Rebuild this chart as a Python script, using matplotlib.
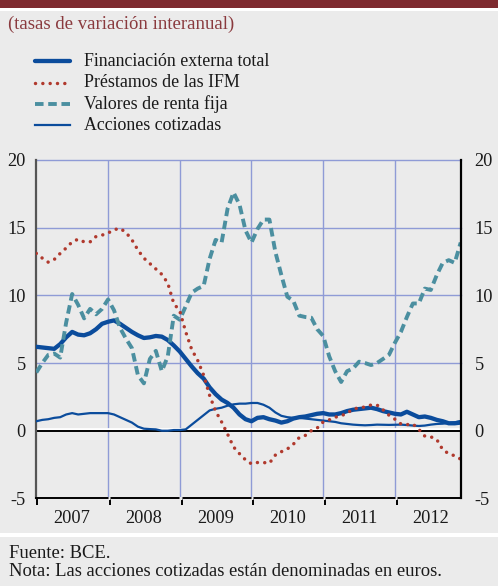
import numpy as np
import matplotlib
matplotlib.use("Agg")
import matplotlib.pyplot as plt
from matplotlib.lines import Line2D
from matplotlib.patches import Rectangle
from matplotlib.transforms import ScaledTranslation

plt.rcParams['font.family'] = ['Liberation Serif', 'DejaVu Serif']

# ---------------- data (monthly, Jan 2007 .. Dec 2012) ----------------
month_index = np.arange(72)
year_starts = [2007, 2008, 2009, 2010, 2011, 2012]
year_labels = ['2007', '2008', '2009', '2010', '2011', '2012']
y_ticks = [-5, 0, 5, 10, 15, 20]

total = [6.2, 6.15, 6.1, 6.05, 6.4, 6.9, 7.3, 7.1, 7.05, 7.2, 7.5, 7.9,
         8.05, 8.15, 7.9, 7.6, 7.3, 7.05, 6.85, 6.9, 7.0, 6.95, 6.7, 6.3,
         5.85, 5.3, 4.75, 4.25, 3.85, 3.2, 2.7, 2.3, 2.05, 1.7, 1.2, 0.85,
         0.7, 0.95, 1.0, 0.85, 0.75, 0.6, 0.7, 0.9, 1.0, 1.05, 1.15, 1.25,
         1.3, 1.2, 1.2, 1.3, 1.45, 1.55, 1.6, 1.65, 1.7, 1.6, 1.45, 1.35,
         1.25, 1.2, 1.4, 1.2, 1.0, 1.05, 0.95, 0.8, 0.7, 0.55, 0.55, 0.6]

prestamos = [13.1, 12.75, 12.45, 12.65, 13.1, 13.5, 13.95, 14.15, 13.95, 13.95, 14.35, 14.45,
             14.6, 14.85, 14.95, 14.65, 14.1, 13.35, 12.75, 12.35, 11.95, 11.55, 10.9, 9.4,
             8.85, 7.3, 6.0, 5.2, 4.1, 2.6, 1.45, 0.65, -0.25, -1.2, -1.7, -2.15,
             -2.45, -2.35, -2.35, -2.4, -1.8, -1.55, -1.35, -1.0, -0.5, -0.35, 0.0, 0.2,
             0.65, 0.8, 1.0, 1.1, 1.3, 1.6, 1.7, 1.75, 1.9, 1.9, 1.55, 1.15,
             0.85, 0.5, 0.45, 0.5, 0.1, -0.4, -0.45, -0.65, -1.4, -1.7, -1.85, -2.1]

valores = [4.3, 5.0, 5.6, 5.7, 5.4, 8.0, 10.1, 9.3, 8.3, 9.0, 8.6, 9.0,
           9.7, 8.9, 7.6, 6.8, 6.1, 4.1, 3.5, 5.3, 5.9, 4.4, 5.5, 8.5,
           8.2, 9.2, 10.2, 10.5, 10.7, 12.7, 14.1, 13.9, 16.4, 17.6, 16.7, 14.8,
           13.9, 14.9, 15.6, 15.6, 13.2, 11.5, 9.9, 9.6, 8.5, 8.4, 8.35, 7.5,
           7.0, 5.5, 4.4, 3.6, 4.4, 4.6, 5.1, 5.0, 4.85, 5.0, 5.3, 5.6,
           6.5, 7.3, 8.4, 9.4, 9.4, 10.5, 10.4, 11.5, 12.4, 12.6, 12.4, 13.9]

acciones = [0.7, 0.8, 0.85, 0.95, 1.0, 1.2, 1.3, 1.2, 1.25, 1.3, 1.3, 1.3,
            1.3, 1.2, 1.0, 0.8, 0.6, 0.3, 0.15, 0.12, 0.1, 0.0, 0.0, 0.05,
            0.05, 0.1, 0.45, 0.8, 1.15, 1.5, 1.62, 1.7, 1.85, 1.95, 2.0, 2.0,
            2.05, 2.05, 1.92, 1.7, 1.35, 1.1, 1.0, 0.95, 0.95, 0.9, 0.85, 0.8,
            0.75, 0.7, 0.65, 0.55, 0.5, 0.45, 0.42, 0.4, 0.42, 0.45, 0.44, 0.43,
            0.44, 0.45, 0.42, 0.38, 0.35, 0.38, 0.45, 0.5, 0.52, 0.57, 0.62, 0.72]

labels = ['Financiación externa total', 'Préstamos de las IFM',
          'Valores de renta fija', 'Acciones cotizadas']

subtitle = '(tasas de variación interanual)'
footer1 = 'Fuente: BCE.'
footer2 = 'Nota: Las acciones cotizadas están denominadas en euros.'

# ---------------- styling ----------------
BG = '#ebebeb'
BLUE = '#0b4c9c'
TEAL = '#4b8fa0'
RED = '#b0392d'
GRID = '#8f9bd6'
FS_TICK = 13.2
FS_LEG = 12.9
FS_SUB = 13.5
FS_FOOT = 13.4
TXT = '#1a1a1a'

W, H = 498, 586
fig = plt.figure(figsize=(W / 100, H / 100), dpi=100, facecolor=BG)

def fx(px):
    return px / W

def fy(py):
    return 1 - py / H

# header band
fig.patches.append(Rectangle((0, fy(7.5)), 1, 7.5 / H, transform=fig.transFigure,
                             facecolor='#7e2a2f', edgecolor='none', zorder=0))
fig.patches.append(Rectangle((0, fy(11)), 1, 3.2 / H, transform=fig.transFigure,
                             facecolor='white', edgecolor='none', zorder=0))
# footer separator
fig.patches.append(Rectangle((0, fy(537)), 1, 4 / H, transform=fig.transFigure,
                             facecolor='white', edgecolor='none', zorder=0))

fig.text(fx(8), fy(24), subtitle, color='#8a3a3e', fontsize=FS_SUB, va='center', ha='left')
fig.text(fx(9), fy(554), footer1, color=TXT, fontsize=FS_FOOT, va='center', ha='left')
fig.text(fx(9), fy(572), footer2, color=TXT, fontsize=FS_FOOT, va='center', ha='left')

# axes
x = 2007 + month_index / 12.0
ax = fig.add_axes([fx(36.3), fy(498.4), fx(460.7) - fx(36.3), fy(160) - fy(498.4)])
ax.set_facecolor(BG)
ax.set_xlim(2007.0, 2012.917)
ax.set_ylim(-5, 20)

# grid
for yv in y_ticks:
    if yv > 0:
        ax.axhline(yv, color=GRID, lw=1.0, zorder=1, clip_on=False)
for yr in year_starts[1:]:
    ax.axvline(yr, color=GRID, lw=1.0, zorder=1)

# zero line with white highlight above
off = ScaledTranslation(0, 2.0 / 100, fig.dpi_scale_trans)
ax.plot([0, 1], [0, 0], transform=ax.get_yaxis_transform() + off, color='white', lw=2.0, zorder=2)
ax.plot([0, 1], [0, 0], transform=ax.get_yaxis_transform(), color='black', lw=1.4, zorder=2)

style_total = dict(color=BLUE, lw=3.1, solid_capstyle='round', solid_joinstyle='round')
style_prest = dict(color=RED, lw=2.5, linestyle=(0, (0.01, 2.1)), dash_capstyle='round')
style_val = dict(color=TEAL, lw=2.8, linestyle=(0, (2.2, 1.2)), dash_capstyle='butt')
style_acc = dict(color=BLUE, lw=1.6, solid_joinstyle='round')

ax.plot(x, acciones, zorder=3, **style_acc)
ax.plot(x, total, zorder=4, **style_total)
ax.plot(x, valores, zorder=5, **style_val)
ax.plot(x, prestamos, zorder=6, **style_prest)

# spines
ax.spines['top'].set_visible(False)
ax.spines['right'].set_visible(False)
ax.spines['left'].set_color('#555555')
ax.spines['left'].set_linewidth(1.6)
ax.spines['bottom'].set_color('black')
ax.spines['bottom'].set_linewidth(1.4)

# white notches in the bottom axis line at each year boundary
for yr in year_starts[1:]:
    ax.plot([yr - 0.004, yr + 0.026], [-5, -5], color=BG, lw=2.2, zorder=3,
            clip_on=False, solid_capstyle='butt')

ax.set_yticks(y_ticks)
ax.set_yticklabels([str(v) for v in y_ticks])
ax.tick_params(axis='y', length=0, pad=7.5, labelsize=FS_TICK, colors=TXT)

ax.set_xticks([yr + (0.012 if yr == year_starts[0] else 0.028) for yr in year_starts])
ax.set_xticklabels([''] * len(year_starts))
ax.tick_params(axis='x', which='major', direction='out', length=5, width=1.4, color='black')
ax.set_xticks([yr + 0.5 for yr in year_starts], minor=True)
ax.set_xticklabels(year_labels, minor=True)
ax.tick_params(axis='x', which='minor', length=0, pad=8, labelsize=FS_TICK, labelcolor=TXT)

ax2 = ax.twinx()
ax2.set_ylim(-5, 20)
ax2.set_yticks(y_ticks)
ax2.set_yticklabels([str(v) for v in y_ticks])
ax2.tick_params(axis='y', length=0, pad=10, labelsize=FS_TICK, colors=TXT)
for s in ['top', 'left', 'bottom']:
    ax2.spines[s].set_visible(False)
ax2.spines['right'].set_color('black')
ax2.spines['right'].set_linewidth(1.6)

# legend (manual)
row_y = [61, 82.7, 104.3, 125.3]
styles = [style_total, style_prest, style_val, style_acc]
for ry, lab, st in zip(row_y, labels, styles):
    fig.add_artist(Line2D([fx(35), fx(69.5)], [fy(ry), fy(ry)], transform=fig.transFigure, **st))
    fig.text(fx(83.5), fy(ry), lab, fontsize=FS_LEG, va='center', ha='left', color=TXT)

fig.savefig('out.png', dpi=100, facecolor=BG)
